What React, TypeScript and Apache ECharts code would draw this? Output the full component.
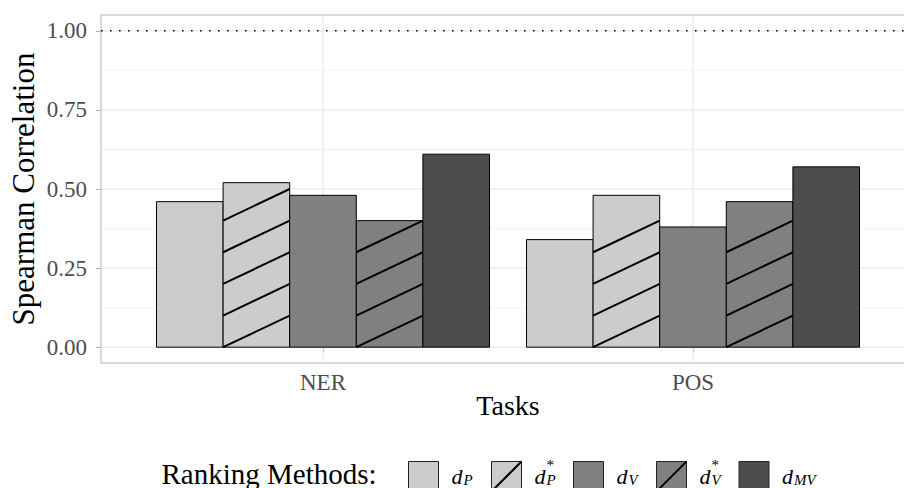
import React, { useEffect, useRef } from 'react';
import * as echarts from 'echarts';

// ---- data ----
const tasks = ['NER', 'POS'];
const methodNames = ['d_P', 'd*_P', 'd_V', 'd*_V', 'd_MV'];
const methodSub = ['P', 'P', 'V', 'V', 'MV'];
const methodSup = ['', '*', '', '*', ''];
const methodColors = ['#cccccc', '#cccccc', '#808080', '#808080', '#4d4d4d'];
const methodHatched = [false, true, false, true, false];
const dP = [0.46, 0.34];
const dPStar = [0.52, 0.48];
const dV = [0.48, 0.38];
const dVStar = [0.40, 0.46];
const dMV = [0.61, 0.57];
const yTicks = [0, 0.25, 0.5, 0.75, 1];
const yMinorTicks = [0.125, 0.375, 0.625, 0.875];
const refLineValue = 1.0;

const seriesValues = [dP, dPStar, dV, dVStar, dMV];

const FONT = '"Liberation Serif", "Times New Roman", serif';
const GROUP = 0.9;
const BW = GROUP / methodNames.length;
const HATCH_STEP = 0.1;

export default function App() {
  const ref = useRef<HTMLDivElement>(null);
  useEffect(() => {
    if (!ref.current) return;
    const chart = echarts.init(ref.current, undefined, { renderer: 'svg' });
    const taskPos = tasks.map((_, i) => i + 1);

    const barSeries = methodNames.map((name, i) => ({
      type: 'custom',
      name,
      z: 3,
      data: taskPos.map((p, j) => [p, seriesValues[i][j]]),
      renderItem: (params: any, api: any) => {
        const cat = api.value(0);
        const v = api.value(1);
        const xl = cat - GROUP / 2 + i * BW;
        const xr = xl + BW;
        const p0 = api.coord([xl, 0]);
        const p1 = api.coord([xr, v]);
        const children: any[] = [
          {
            type: 'rect',
            shape: { x: p0[0], y: p1[1], width: p1[0] - p0[0], height: p0[1] - p1[1] },
            style: { fill: methodColors[i], stroke: '#000', lineWidth: 1 },
          },
        ];
        if (methodHatched[i]) {
          for (let k = 0; (k + 1) * HATCH_STEP <= v + 1e-9; k++) {
            const a = api.coord([xl, k * HATCH_STEP]);
            const b = api.coord([xr, (k + 1) * HATCH_STEP]);
            children.push({
              type: 'line',
              shape: { x1: a[0], y1: a[1], x2: b[0], y2: b[1] },
              style: { stroke: '#000', lineWidth: 2 },
            });
          }
        }
        return { type: 'group', children };
      },
    }));

    const gridData: any[] = [
      ...yTicks.map((v) => [v, 0]),
      ...yMinorTicks.map((v) => [v, 1]),
      ...taskPos.map((v) => [v, 2]),
    ];

    const gridSeries = {
      type: 'custom',
      name: 'grid',
      z: 1,
      silent: true,
      data: gridData,
      renderItem: (params: any, api: any) => {
        const v = api.value(0);
        const kind = api.value(1);
        const cs = params.coordSys;
        if (kind === 2) {
          const x = api.coord([v, 0])[0];
          return {
            type: 'line',
            shape: { x1: x, y1: cs.y, x2: x, y2: cs.y + cs.height },
            style: { stroke: '#e3e3e3', lineWidth: 1 },
          };
        }
        const y = api.coord([1, v])[1];
        return {
          type: 'line',
          shape: { x1: cs.x, y1: y, x2: cs.x + cs.width, y2: y },
          style: { stroke: kind === 0 ? '#e3e3e3' : '#efefef', lineWidth: kind === 0 ? 1 : 0.8 },
        };
      },
    };

    const refSeries = {
      type: 'custom',
      name: 'ref',
      z: 2,
      silent: true,
      data: [[1, refLineValue]],
      renderItem: (params: any, api: any) => {
        const cs = params.coordSys;
        const y = api.coord([1, api.value(1)])[1];
        return {
          type: 'line',
          shape: { x1: cs.x, y1: y, x2: cs.x + cs.width, y2: y },
          style: { stroke: '#000', lineWidth: 1.6, lineDash: [1.6, 7.4] },
        };
      },
    };

    // legend graphics
    const swatchX = [408, 491, 573, 656, 738.5];
    const legendChildren: any[] = [
      {
        type: 'text',
        x: 161.5,
        y: 473.5,
        style: { text: 'Ranking Methods:', font: `29px ${FONT}`, fill: '#000', align: 'left', verticalAlign: 'middle' },
      },
    ];
    methodNames.forEach((_, i) => {
      const x = swatchX[i];
      legendChildren.push({
        type: 'rect',
        shape: { x: x + 0.5, y: 461.5, width: 30, height: 30 },
        style: { fill: methodColors[i], stroke: '#222', lineWidth: 1 },
      });
      if (methodHatched[i]) {
        legendChildren.push({
          type: 'line',
          shape: { x1: x + 0.5, y1: 491.5, x2: x + 30.5, y2: 461.5 },
          style: { stroke: '#000', lineWidth: 2 },
        });
      }
      const lx = x + 43.5;
      legendChildren.push({
        type: 'text',
        x: lx,
        y: 476,
        style: { text: 'd', font: `italic 22px ${FONT}`, fill: '#000', align: 'left', verticalAlign: 'middle' },
      });
      legendChildren.push({
        type: 'text',
        x: lx + 12,
        y: 480.3,
        style: { text: methodSub[i], font: `italic 15px ${FONT}`, fill: '#000', align: 'left', verticalAlign: 'middle' },
      });
      if (methodSup[i]) {
        legendChildren.push({
          type: 'text',
          x: lx + 12,
          y: 465.2,
          style: { text: methodSup[i], font: `15px ${FONT}`, fill: '#000000', align: 'left', verticalAlign: 'middle' },
        });
      }
    });

    chart.setOption({
      animation: false,
      backgroundColor: '#ffffff',
      grid: {
        left: 101,
        top: 15,
        width: 814,
        height: 348,
        show: true,
        borderColor: '#b3b3b3',
        borderWidth: 1,
        backgroundColor: 'transparent',
        containLabel: false,
        outerBoundsMode: 'none',
      },
      xAxis: {
        type: 'value',
        min: 0.4,
        max: 2.6,
        axisLine: { show: false },
        splitLine: { show: false },
        axisTick: { show: true, customValues: taskPos, length: 5, lineStyle: { color: '#b3b3b3' } },
        axisLabel: {
          customValues: taskPos,
          formatter: (v: number) => tasks[Math.round(v) - 1] ?? '',
          fontFamily: FONT,
          fontSize: 23,
          color: '#4d4d4d',
          margin: 8,
        },
      },
      yAxis: {
        type: 'value',
        min: -0.05,
        max: 1.05,
        axisLine: { show: false },
        splitLine: { show: false },
        axisTick: { show: true, customValues: yTicks, length: 5, lineStyle: { color: '#b3b3b3' } },
        axisLabel: {
          customValues: yTicks,
          formatter: (v: number) => v.toFixed(2),
          fontFamily: FONT,
          fontSize: 23,
          color: '#4d4d4d',
          margin: 14,
        },
      },
      series: [gridSeries, refSeries, ...barSeries],
      graphic: [
        {
          type: 'text',
          x: 23,
          y: 189,
          rotation: Math.PI / 2,
          style: { text: 'Spearman Correlation', font: `31px ${FONT}`, fill: '#000', align: 'center', verticalAlign: 'middle' },
        },
        {
          type: 'text',
          x: 508,
          y: 405,
          style: { text: 'Tasks', font: `28px ${FONT}`, fill: '#000', align: 'center', verticalAlign: 'middle' },
        },
        { type: 'group', children: legendChildren },
      ],
    });
    return () => chart.dispose();
  }, []);
  return <div ref={ref} style={{ position: 'absolute', left: 0, top: 0, width: 904, height: 488 }} />;
}
